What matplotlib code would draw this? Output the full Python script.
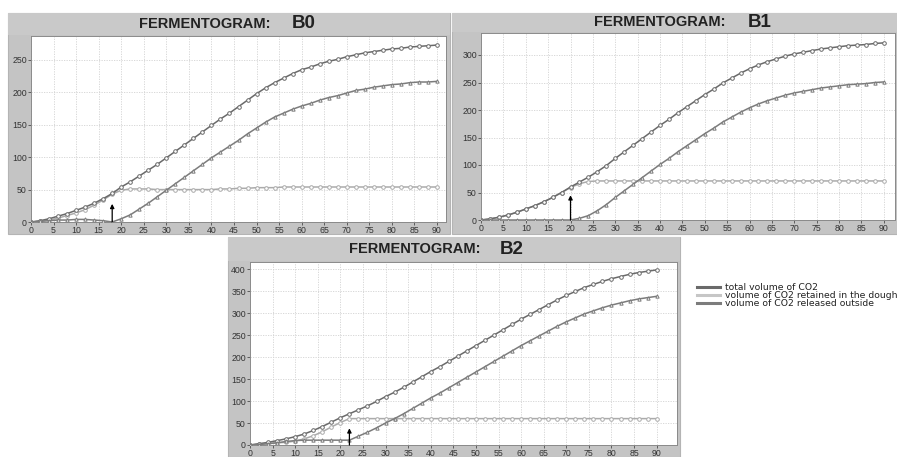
import numpy as np
import matplotlib
matplotlib.use("Agg")
import matplotlib.pyplot as plt
from matplotlib.lines import Line2D
from matplotlib.patches import Rectangle

'''
    Data read off the fermentograms (CO2 volume vs time, one point every 2 min)
'''

time_min = list(range(0, 92, 2))

b0_total = [0, 2, 5, 9, 13, 18, 23, 29, 36, 44, 54, 62, 71, 80, 89, 99, 109, 119, 129, 139,
            149, 159, 168, 178, 188, 198, 207, 215, 222, 229, 235, 239, 244, 248, 251, 255,
            258, 261, 263, 265, 267, 268, 270, 271, 272, 273]
b0_retained = [0, 1, 3, 6, 10, 14, 19, 26, 34, 43, 49, 51, 51, 51, 50, 50, 50, 50, 50, 50,
               50, 51, 51, 52, 52, 53, 53, 53, 54, 54, 54, 54, 54, 54, 54, 54,
               54, 54, 54, 54, 54, 54, 54, 54, 54, 54]
b0_released = [0, 1, 2, 3, 3, 4, 4, 3, 2, 0, 5, 11, 20, 29, 39, 49, 59, 69, 79, 89,
               99, 108, 117, 126, 136, 145, 154, 162, 168, 174, 179, 183, 188, 192, 195, 199,
               203, 205, 208, 210, 212, 213, 215, 216, 216, 217]

b1_total = [0, 2, 5, 9, 14, 20, 26, 33, 41, 50, 60, 69, 78, 88, 99, 112, 124, 136, 148, 160,
            172, 183, 195, 206, 217, 228, 238, 249, 258, 267, 275, 282, 288, 293, 298, 302,
            305, 308, 311, 313, 315, 317, 318, 319, 321, 322]
b1_retained = [0, 2, 5, 9, 14, 20, 26, 33, 41, 50, 59, 66, 70, 71, 71, 71, 71, 71, 71, 71,
               71, 71, 71, 71, 71, 71, 71, 71, 71, 71, 71, 71, 71, 71, 71, 71,
               71, 71, 71, 71, 71, 71, 71, 71, 71, 71]
b1_released = [0, 0, 0, 0, 0, 0, 0, 0, 0, 0, 0, 3, 8, 17, 28, 41, 53, 65, 77, 89,
               101, 112, 124, 135, 146, 157, 167, 178, 187, 196, 204, 211, 217, 222, 227, 231,
               234, 237, 240, 242, 244, 246, 247, 248, 250, 251]

b2_total = [0, 3, 6, 10, 14, 19, 25, 33, 42, 52, 62, 71, 80, 89, 99, 110, 120, 131, 143, 155,
            167, 178, 190, 202, 214, 226, 238, 250, 262, 274, 286, 297, 308, 319, 330, 340,
            349, 358, 365, 372, 378, 383, 388, 392, 395, 398]
b2_retained = [0, 2, 3, 5, 6, 9, 14, 21, 30, 41, 51, 60, 60, 60, 60, 60, 60, 60, 60, 60,
               60, 60, 60, 60, 60, 60, 60, 60, 60, 60, 60, 60, 60, 60, 60, 60,
               60, 60, 60, 60, 60, 60, 60, 60, 60, 60]
b2_released = [0, 1, 3, 5, 8, 10, 11, 11, 11, 11, 11, 11, 20, 29, 39, 50, 60, 71, 83, 95,
               107, 118, 130, 142, 154, 166, 178, 190, 202, 214, 226, 237, 248, 259, 270, 280,
               289, 298, 305, 312, 318, 323, 328, 332, 335, 338]

# Sample names, arrow time (min) and arrow tip height
sample_names = ["B0", "B1", "B2"]
arrow_time = [18, 20, 22]
arrow_top = [28, 45, 38]

y_limits = [287, 340, 416]
x_limits = [92, 92.5, 94.5]

legend_labels = ["total volume of CO2",
                 "volume of CO2 retained in the dough",
                 "volume of CO2 released outside"]

'''
    Styling
'''

W, H = 897, 457
frame_color = "#c4c4c4"
band_color = "#c9c9c9"
col_total = "#6a6a6a"
col_retained = "#ababab"
col_released = "#7c7c7c"
legend_colors = ["#6a6a6a", "#c6c6c6", "#7c7c7c"]

# pixel boxes: (frame left, frame top, frame right, frame bottom), (axes left, top, right, bottom)
frame_px = [(8, 13, 450, 234), (452, 13, 897, 234), (228, 237, 680, 457)]
axes_px = [(31, 36, 446, 222), (481, 33, 895, 220), (250, 262, 677, 445)]
band_bottom = [35, 32, 261]
title_x = [(205, 304), (660, 760), (415, 512)]


def to_fig(left, top, right, bottom):
    return [left / W, 1 - bottom / H, (right - left) / W, (bottom - top) / H]


fig = plt.figure(figsize=(W / 100, H / 100), dpi=100)
fig.patch.set_facecolor("white")

all_series = [(b0_total, b0_retained, b0_released),
              (b1_total, b1_retained, b1_released),
              (b2_total, b2_retained, b2_released)]

for i in range(3):
    fl, ft, fr, fb = frame_px[i]

    # gray frame behind the chart
    fig.patches.append(Rectangle((fl / W, 1 - fb / H), (fr - fl) / W, (fb - ft) / H,
                                 transform=fig.transFigure, facecolor=frame_color,
                                 edgecolor="#b4b4b4", linewidth=0.8, zorder=-10))
    # title band
    fig.patches.append(Rectangle((fl / W, 1 - band_bottom[i] / H), (fr - fl) / W,
                                 (band_bottom[i] - ft) / H, transform=fig.transFigure,
                                 facecolor=band_color, edgecolor="none", zorder=-9))

    # title text
    ty = 1 - (ft + band_bottom[i]) / 2 / H
    fig.text(title_x[i][0] / W, ty, "FERMENTOGRAM:", ha="center", va="center",
             fontsize=10.5, fontweight="bold", family="Liberation Sans", color="#222222")
    fig.text(title_x[i][1] / W, ty, sample_names[i], ha="center", va="center",
             fontsize=13.5, fontweight="bold", family="Liberation Sans", color="#222222")

    ax = fig.add_axes(to_fig(*axes_px[i]))
    ax.set_facecolor("white")

    total, retained, released = all_series[i]

    ax.plot(time_min, retained, color=col_retained, lw=1.1, marker="o", markersize=2.6,
            markerfacecolor="white", markeredgecolor=col_retained, markeredgewidth=0.7, zorder=3)
    ax.plot(time_min, total, color=col_total, lw=1.1, marker="o", markersize=2.6,
            markerfacecolor="white", markeredgecolor=col_total, markeredgewidth=0.7, zorder=4)
    ax.plot(time_min, released, color=col_released, lw=1.1, marker="^", markersize=2.4,
            markerfacecolor="white", markeredgecolor=col_released, markeredgewidth=0.7, zorder=4)

    # arrow marking the start of gas release
    ax.annotate("", xy=(arrow_time[i], arrow_top[i]), xytext=(arrow_time[i], 0),
                arrowprops=dict(arrowstyle="-|>", color="black", lw=0.9,
                                mutation_scale=6, shrinkA=0, shrinkB=0), zorder=5)

    ax.set_xlim(0, x_limits[i])
    ax.set_ylim(0, y_limits[i])
    ax.set_xticks(np.arange(0, 91, 5))
    ax.set_yticks(np.arange(0, y_limits[i], 50))
    ax.grid(True, color="#d2d2d2", linestyle=(0, (1.5, 1.5)), linewidth=0.6)
    ax.tick_params(labelsize=6.3, length=2, width=0.5, pad=1, colors="#333333")
    for lab in ax.get_xticklabels() + ax.get_yticklabels():
        lab.set_family("Liberation Sans")
    for side in ax.spines:
        ax.spines[side].set_color("#8a8a8a")
        ax.spines[side].set_linewidth(0.7)

# legend next to the bottom chart, drawn by hand to keep the rows tight
for k in range(3):
    row_y = 1 - (287 + 8 * k) / H
    fig.add_artist(Line2D([697 / W, 720 / W], [row_y, row_y], transform=fig.transFigure,
                          color=legend_colors[k], lw=2.2))
    fig.text(725 / W, row_y, legend_labels[k], ha="left", va="center",
             fontsize=6.7, family="DejaVu Sans", color="#222222")

fig.savefig("out.png", dpi=100)
